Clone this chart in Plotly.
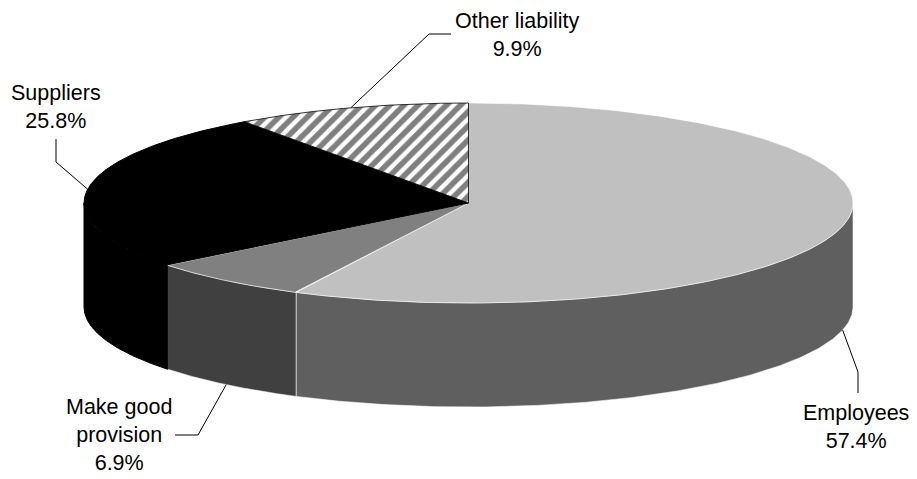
import numpy as np
import plotly.graph_objects as go

# ---- data ----
labels = ["Employees", "Make good provision", "Suppliers", "Other liability"]
values = [57.4, 6.9, 25.8, 9.9]
label_text = ["Employees<br>57.4%", "Make good<br>provision<br>6.9%", "Suppliers<br>25.8%", "Other liability<br>9.9%"]

# ---- styles / geometry (pixel space) ----
top_colors = ["#C0C0C0", "#808080", "#000000", "#FFFFFF"]
side_colors = ["#5F5F5F", "#404040", "#000000", "#FFFFFF"]
edge_colors = ["rgba(255,255,255,0.55)", "rgba(255,255,255,0.55)", "#000000", "#000000"]
CX, CY, RX, RY, DEPTH = 468.5, 203.0, 384.5, 100.0, 104.0
W, H = 917, 479

# label text positions and elbow points (x, y)
label_pos = [(856, 427), (119, 435), (56, 107), (517, 35)]
elbows = [[(858, 372), (858, 393)], [(198, 435), (175, 435)], [(56, 162), (56, 139)], [(429, 34), (451, 34)]]
anchor_on_bottom = [True, True, False, False]


def pt(theta_deg, dy=0.0):
    t = np.radians(theta_deg)
    return CX + RX * np.sin(t), CY - RY * np.cos(t) + dy


fig = go.Figure()

total = sum(values)
starts, ends = [], []
acc = 0.0
for v in values:
    starts.append(acc / total * 360)
    acc += v
    ends.append(acc / total * 360)

# side faces (front half only: theta in [90, 270])
for i in range(len(values)):
    a, b = max(starts[i], 90), min(ends[i], 270)
    if b <= a:
        continue
    th = np.linspace(a, b, 200)
    xt, yt = pt(th)
    xb, yb = pt(th[::-1], DEPTH)
    xs = np.concatenate([xt, xb, xt[:1]])
    ys = np.concatenate([yt, yb, yt[:1]])
    fig.add_trace(go.Scatter(x=xs, y=ys, mode="lines", fill="toself",
                             fillcolor=side_colors[i],
                             line=dict(color=edge_colors[i], width=1),
                             hoverinfo="skip", showlegend=False))

# top faces
for i in range(len(values)):
    th = np.linspace(starts[i], ends[i], 400)
    xa, ya = pt(th)
    xs = np.concatenate([[CX], xa, [CX]])
    ys = np.concatenate([[CY], ya, [CY]])
    kw = {}
    if labels[i] == "Other liability":
        kw["fillpattern"] = dict(shape="/", fgcolor="#000000", bgcolor="#FFFFFF",
                                 size=10, solidity=0.55)
        lw = 0.8
    else:
        lw = 1
    fig.add_trace(go.Scatter(x=xs, y=ys, mode="lines", fill="toself",
                             fillcolor=top_colors[i],
                             line=dict(color=edge_colors[i], width=lw),
                             hoverinfo="skip", showlegend=False, **kw))

# labels and leader lines
for i in range(len(values)):
    mid = (starts[i] + ends[i]) / 2
    ax, ay = pt(mid, DEPTH if anchor_on_bottom[i] else 0.0)
    (ex, ey), (lx, ly) = elbows[i]
    fig.add_trace(go.Scatter(x=[ax, ex, lx], y=[ay, ey, ly], mode="lines",
                             line=dict(color="#000000", width=1),
                             hoverinfo="skip", showlegend=False))
    fig.add_annotation(x=label_pos[i][0], y=label_pos[i][1], text=label_text[i],
                       showarrow=False, xref="x", yref="y",
                       font=dict(family="Liberation Sans, Arial", size=21.5, color="#000000"),
                       align="center")

fig.update_xaxes(range=[0, W], visible=False, fixedrange=True)
fig.update_yaxes(range=[H, 0], visible=False, fixedrange=True)
fig.update_layout(width=W, height=H, margin=dict(l=0, r=0, t=0, b=0),
                  paper_bgcolor="white", plot_bgcolor="white", showlegend=False)

fig.write_html("out.html")
